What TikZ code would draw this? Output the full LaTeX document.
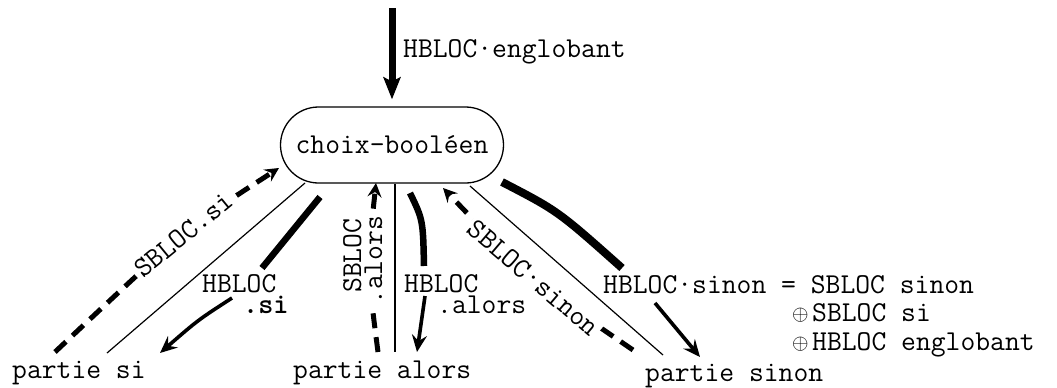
\documentclass[tikz,border=0pt]{standalone}
\usetikzlibrary{arrows.meta}
\begin{document}
\begin{tikzpicture}[x=1pt,y=-1pt,
  every node/.style={font=\fontsize{28.8}{21}\selectfont\ttfamily, inner sep=0pt},
  boxst/.style={draw, line width=1.3pt, rounded corners=38pt, minimum width=223pt, minimum height=76pt},
  thinline/.style={line width=1.2pt},
  heavy/.style={line width=6.5pt, line cap=butt},
  arrowline/.style={line width=3.6pt, -{Stealth[length=17pt,width=15pt,inset=6pt]}},
  toparrow/.style={line width=7pt, -{Stealth[length=22pt,width=17pt,inset=4pt]}},
  dashline/.style={line width=5pt, dash pattern=on 15pt off 9pt, -{Stealth[length=14pt,width=14pt,inset=5pt]}},
  onpath/.style={fill=white, inner sep=3pt, sloped},
  lbl/.style={anchor=base west, align=left},
]
\useasboundingbox (0,0) rectangle (1057,388);

% nodes
\node[boxst] (choix) at (392,145) {choix-booléen};
\node[anchor=base west] (psi) at (12,378) {partie si};
\node[anchor=base west] (palors) at (293,378) {partie alors};
\node[anchor=base west] (psinon) at (645,381) {partie sinon};

% coordinates
\coordinate (top) at (392,8);
\coordinate (c1) at (305,183); \coordinate (e1) at (107,353);
\coordinate (c2) at (395,184); \coordinate (e2) at (395,352);
\coordinate (c3) at (470,186); \coordinate (e3) at (663,355);
\coordinate (dsi0) at (55,352);  \coordinate (dsi1) at (279,168);
\coordinate (dal0) at (378,352); \coordinate (dal1) at (376,183);
\coordinate (dsn0) at (633,350); \coordinate (dsn1) at (443,188);
\coordinate (hs0) at (320,197); \coordinate (hs1) at (262,268);
\coordinate (hs2) at (232,298); \coordinate (hs3) at (160,353);
\coordinate (ha0) at (410,193); \coordinate (ha1) at (424,266);
\coordinate (ha2) at (425,296); \coordinate (ha3) at (417,352);
\coordinate (hn0) at (502,182); \coordinate (hn1) at (622,268);
\coordinate (hn2) at (655,303); \coordinate (hn3) at (700,357);

% top arrow
\draw[toparrow, shorten >=7pt] (top) -- (choix.north);
\node[anchor=base west] (lengl) at (403,57) {HBLOC·englobant};

% thin lines
\draw[thinline] (c1) -- (e1);
\draw[thinline] (c2) -- (e2);
\draw[thinline] (c3) -- (e3);

% dashed arrows
\draw[dashline] (dsi0) .. controls (189,226) .. (dsi1) node[onpath, pos=0.5] (lssi) {SBLOC.si};
\draw[dashline] (dsn0) .. controls (532,281) .. (dsn1) node[onpath, pos=0.5] (lssn) {SBLOC·sinon};
\draw[dashline] (dal0) .. controls (367,267) .. (dal1);
\node[lbl, fill=white, inner sep=2pt, rotate=90] (lsal) at (382,307) {\hspace*{12pt}SBLOC\\.alors};

% heavy arrows
\draw[heavy] (hs0) -- (hs1);
\draw[arrowline] (hs2) .. controls (198,320) .. (hs3);
\node[lbl] (lhsi) at (202,313) {HBLOC\\\hspace*{41pt}\textbf{.si}};

\draw[heavy] (ha0) .. controls (423,220) .. (ha1);
\draw[arrowline] (ha2) -- (ha3);
\node[lbl] (lhal) at (404,313) {HBLOC\\\hspace*{33pt}.alors};

\draw[heavy, line width=8pt] (hn0) .. controls (558,211) .. (hn1);
\draw[arrowline] (hn2) -- (hn3);
\node[lbl, font=\fontsize{28.8}{28.5}\selectfont\ttfamily] (lhsn) at (603,350)
  {HBLOC·sinon = SBLOC sinon\\
   \hspace*{189pt}\makebox[20pt][l]{\raisebox{1pt}{\scalebox{0.85}{$\oplus$}}}SBLOC si\\
   \hspace*{189pt}\makebox[20pt][l]{\raisebox{1pt}{\scalebox{0.85}{$\oplus$}}}HBLOC englobant};
\end{tikzpicture}
\end{document}
